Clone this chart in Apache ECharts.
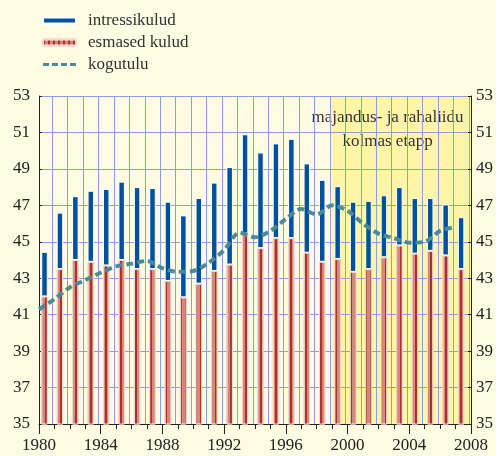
<!DOCTYPE html>
<html>
<head>
<meta charset="utf-8">
<script src="https://cdn.jsdelivr.net/npm/echarts@6/dist/echarts.min.js"></script>
<style>
  html, body { margin: 0; padding: 0; background: #fffbe3; }
  #chart { width: 496px; height: 456px; }
</style>
</head>
<body>
<div id="chart"></div>
<script>
// years 1980..2007, one bar per year
const years = [
  1980, 1981, 1982, 1983, 1984, 1985, 1986, 1987, 1988, 1989,
  1990, 1991, 1992, 1993, 1994, 1995, 1996, 1997, 1998, 1999,
  2000, 2001, 2002, 2003, 2004, 2005, 2006, 2007
];
// primary spending (bottom of stack)
const esmasedKulud = [
  42.0, 43.5, 44.0, 43.9, 43.7, 44.0, 43.5, 43.5, 42.85, 41.95,
  42.7, 43.4, 43.75, 45.45, 44.65, 45.2, 45.2, 44.4, 43.9, 44.05,
  43.35, 43.5, 44.15, 44.8, 44.35, 44.5, 44.25, 43.5
];
// interest spending (top of stack)
const intressikulud = [
  2.45, 3.1, 3.5, 3.9, 4.2, 4.3, 4.5, 4.45, 4.35, 4.5,
  4.7, 4.85, 5.35, 5.45, 5.25, 5.2, 5.45, 4.9, 4.5, 4.0,
  3.85, 3.75, 3.4, 3.2, 3.05, 2.9, 2.8, 2.85
];
// total revenue
const kogutulu = [
  41.3, 41.85, 42.5, 42.9, 43.3, 43.65, 43.8, 43.95, 43.55, 43.35,
  43.4, 43.85, 44.55, 45.5, 45.25, 45.6, 46.25, 46.8, 46.5, 47.0,
  46.7, 46.0, 45.45, 45.2, 44.95, 45.0, 45.6, 45.8
];
const emuStart = 1999;
const emuLabel = 'majandus- ja rahaliidu\nkolmas etapp';

const serif = '"Liberation Serif", "DejaVu Serif", serif';
const gridBlue = '#8c9ee0';
// four short dashes for the legend swatch of the dashed line
const dashIcon = 'path://M0,0h6v3h-6z M9,0h6v3h-6z M18,0h6v3h-6z M27,0h6v3h-6z';

const chart = echarts.init(document.getElementById('chart'), null, { renderer: 'canvas' });

chart.setOption({
  backgroundColor: '#fffbe3',
  animation: false,
  textStyle: { fontFamily: serif },
  legend: {
    orient: 'vertical',
    left: 37,
    top: 7,
    itemWidth: 33,
    itemHeight: 6,
    itemGap: 5,
    textStyle: { fontFamily: serif, fontSize: 17, color: '#333', padding: [0, 0, 0, 7] },
    data: ['intressikulud', 'esmased kulud', { name: 'kogutulu', icon: dashIcon }]
  },
  grid: [
    { left: 39, right: 25, top: 96, bottom: 32 },
    // bar grid, slightly shifted so bars sit left of the year gridlines
    { left: 36.8, right: 27.2, top: 96, bottom: 32 }
  ],
  xAxis: [
    {
      type: 'value', gridIndex: 0, min: 1980, max: 2008, interval: 4,
      axisLine: { show: true, lineStyle: { color: '#222', width: 1 } },
      axisTick: { show: true, length: 10, lineStyle: { color: '#222' } },
      minorTick: { show: true, splitNumber: 4, length: 5, lineStyle: { color: '#222' } },
      splitLine: { show: false },
      axisLabel: { fontFamily: serif, fontSize: 17, color: '#222', margin: 13, formatter: v => String(v) }
    },
    {
      type: 'category', gridIndex: 1, data: years,
      axisLine: { show: false }, axisTick: { show: false }, axisLabel: { show: false },
      splitLine: {
        show: true,
        interval: function (i) { return i > 0; },
        lineStyle: { color: gridBlue, width: 1 }
      }
    }
  ],
  yAxis: [
    {
      type: 'value', gridIndex: 0, min: 35, max: 53, interval: 2, position: 'left',
      axisLine: { show: true, lineStyle: { color: '#222' } },
      axisTick: { show: true, inside: true, length: 3, lineStyle: { color: '#222' } },
      splitLine: { show: true, lineStyle: { color: gridBlue, width: 1 } },
      axisLabel: { fontFamily: serif, fontSize: 17, color: '#222', margin: 9 }
    },
    {
      type: 'value', gridIndex: 0, min: 35, max: 53, interval: 2, position: 'right',
      axisLine: { show: true, lineStyle: { color: '#222' } },
      axisTick: { show: true, inside: true, length: 3, lineStyle: { color: '#222' } },
      splitLine: { show: false },
      axisLabel: { fontFamily: serif, fontSize: 17, color: '#222', margin: 5 }
    },
    {
      type: 'value', gridIndex: 1, min: 35, max: 53, show: false,
      splitLine: { show: false }
    }
  ],
  series: [
    {
      name: 'esmased kulud',
      type: 'bar', xAxisIndex: 1, yAxisIndex: 2, stack: 'kulud',
      barWidth: 6.5,
      itemStyle: {
        color: '#cf8a7c',
        borderColor: '#f3d6cc',
        borderWidth: 1,
        decal: {
          symbol: 'rect', symbolSize: 1, symbolKeepAspect: false,
          dashArrayX: [1.4, 2.2], dashArrayY: [8, 0],
          rotation: 0, color: '#b0302c'
        }
      },
      data: esmasedKulud
    },
    {
      name: 'intressikulud',
      type: 'bar', xAxisIndex: 1, yAxisIndex: 2, stack: 'kulud',
      barWidth: 6.5,
      itemStyle: { color: '#0050a0', borderColor: '#ffffff', borderWidth: 1 },
      data: intressikulud
    },
    {
      name: 'kogutulu',
      type: 'line', xAxisIndex: 0, yAxisIndex: 0,
      z: 4,
      smooth: 0.3,
      symbol: 'none',
      lineStyle: { color: '#4b8a98', width: 4, type: [7, 4], cap: 'butt' },
      itemStyle: { color: '#4b8a98' },
      data: years.map((y, i) => [y, kogutulu[i]]),
      markArea: {
        silent: true,
        z: -1,
        itemStyle: { color: '#fff5a6' },
        label: {
          position: 'insideTop', distance: 10, offset: [-14, 0],
          fontFamily: serif, fontSize: 17, lineHeight: 24, color: '#333', align: 'center'
        },
        data: [[{ xAxis: emuStart, name: emuLabel }, { xAxis: 2008 }]]
      }
    }
  ]
});
</script>
</body>
</html>
